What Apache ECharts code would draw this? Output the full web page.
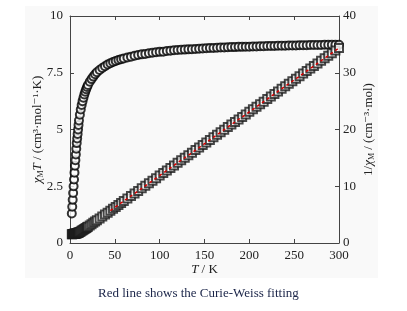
<!DOCTYPE html>
<html lang="en">
<head>
    <meta charset="utf-8">
    <title>chiT</title>
    <script src="https://cdn.jsdelivr.net/npm/echarts@6/dist/echarts.min.js"></script>
    <style>
        html, body { margin:0; padding:0; background:#fff; }
    </style>
</head>
<body>
<div id="chart" style="width:407px; height:311px;"></div>

<script>
    // temperature (K)
    var tempK = [2,2.5,3,3.5,4,4.5,5,5.5,6,6.5,7,7.5,8,8.5,9,9.5,10,
        11,12,13,14,15,16,17,18,19,20,
        22,24,26,28,30,
        33,36,39,42,45,48,51,54,57,60,
        64,68,72,76,80,84,88,92,96,100,
        104,108,112,116,120,124,128,132,136,140,
        144,148,152,156,160,164,168,172,176,180,
        184,188,192,196,200,204,208,212,216,220,
        224,228,232,236,240,244,248,252,256,260,
        264,268,272,276,280,284,288,292,296,300];

    // chi_M T  (left axis, circles)
    var chiT = [1.3,1.6,1.9,2.2,2.5,2.8,3.1,3.4,3.65,3.9,4.15,4.4,4.6,4.8,5.0,5.2,5.4,
        5.65,5.88,6.08,6.25,6.4,6.54,6.66,6.77,6.87,6.96,
        7.1,7.22,7.33,7.43,7.52,
        7.62,7.71,7.79,7.86,7.92,7.97,8.02,8.06,8.1,8.13,
        8.17,8.21,8.25,8.28,8.31,8.33,8.36,8.38,8.40,8.42,
        8.43,8.46,8.47,8.49,8.50,8.51,8.52,8.53,8.54,8.55,
        8.56,8.57,8.58,8.59,8.59,8.60,8.61,8.61,8.62,8.63,
        8.63,8.64,8.64,8.65,8.65,8.66,8.66,8.67,8.67,8.68,
        8.68,8.68,8.69,8.69,8.69,8.70,8.70,8.70,8.71,8.71,
        8.71,8.72,8.72,8.72,8.72,8.73,8.73,8.73,8.73,8.73];

    // 1/chi_M  (right axis, squares)
    var invChi = [1.54,1.56,1.58,1.59,1.60,1.61,1.61,1.62,1.64,1.67,1.69,1.70,1.74,1.77,1.80,1.83,1.85,
        1.95,2.04,2.14,2.24,2.34,2.45,2.55,2.66,2.77,2.87,
        3.10,3.32,3.55,3.77,3.99,
        4.33,4.67,5.01,5.34,5.68,6.02,6.36,6.70,7.04,7.38,
        7.83,8.28,8.73,9.18,9.63,10.08,10.53,10.98,11.43,11.88,
        12.33,12.77,13.22,13.67,14.12,14.57,15.02,15.47,15.92,16.37,
        16.82,17.27,17.72,18.17,18.62,19.07,19.52,19.97,20.42,20.86,
        21.31,21.76,22.21,22.66,23.11,23.56,24.01,24.46,24.91,25.36,
        25.81,26.26,26.71,27.16,27.61,28.06,28.51,28.96,29.40,29.85,
        30.30,30.75,31.20,31.65,32.10,32.55,33.00,33.45,33.90,34.35];

    // Curie-Weiss fit (red line)
    var fitT = [45, 300];
    var fitInv = [5.70, 34.35];

    var xTicks = [0, 300, 50];
    var leftTicks = [0, 10, 2.5];
    var rightTicks = [0, 40, 10];

    var serif = '"Liberation Serif", "DejaVu Serif", serif';
    var axisColor = '#444';

    function zip(a, b) {
        return a.map(function (v, i) { return [v, b[i]]; });
    }

    function axisBase() {
        return {
            axisLine: { show: true, onZero: false, lineStyle: { color: axisColor, width: 1 } },
            axisTick: { show: true, inside: true, length: 4, lineStyle: { color: axisColor } },
            splitLine: { show: false },
            minorTick: { show: false },
            nameMoveOverlap: false
        };
    }

    var chart = echarts.init(document.getElementById('chart'));

    var xBottom = Object.assign(axisBase(), {
        type: 'value', position: 'bottom',
        min: xTicks[0], max: xTicks[1], interval: xTicks[2],
        axisLabel: { margin: 6, fontFamily: serif, fontSize: 13, color: '#222' },
        name: '{i|T} / K',
        nameLocation: 'middle', nameGap: 20,
        nameTextStyle: {
            fontFamily: serif, fontSize: 13, color: '#222',
            rich: { i: { fontFamily: serif, fontSize: 13, fontStyle: 'italic', color: '#222' } }
        }
    });
    var xTop = Object.assign(axisBase(), {
        type: 'value', position: 'top',
        min: xTicks[0], max: xTicks[1], interval: xTicks[2],
        axisLabel: { show: false }
    });

    var yLeft = Object.assign(axisBase(), {
        type: 'value', position: 'left',
        min: leftTicks[0], max: leftTicks[1], interval: leftTicks[2],
        axisLabel: { margin: 7, fontFamily: serif, fontSize: 13, color: '#222' },
        name: '{i|χ}{s|M}{i|T} / (cm³·mol⁻¹·K)',
        nameLocation: 'middle', nameGap: 25, nameRotate: 90,
        nameTextStyle: {
            fontFamily: serif, fontSize: 13, color: '#222',
            rich: {
                i: { fontFamily: serif, fontSize: 13, fontStyle: 'italic', color: '#222' },
                s: { fontFamily: serif, fontSize: 8, color: '#222', verticalAlign: 'bottom', padding: [6, 0, 0, 0] }
            }
        }
    });

    var yRight = Object.assign(axisBase(), {
        type: 'value', position: 'right',
        min: rightTicks[0], max: rightTicks[1], interval: rightTicks[2],
        axisLabel: { margin: 4, fontFamily: serif, fontSize: 13, color: '#222' },
        name: '1/{i|χ}{s|M} / (cm⁻³·mol)',
        nameLocation: 'middle', nameGap: 23, nameRotate: 90,
        nameTextStyle: {
            fontFamily: serif, fontSize: 13, color: '#222',
            rich: {
                i: { fontFamily: serif, fontSize: 13, fontStyle: 'italic', color: '#222' },
                s: { fontFamily: serif, fontSize: 8, color: '#222', verticalAlign: 'bottom', padding: [6, 0, 0, 0] }
            }
        }
    });

    chart.setOption({
        animation: false,
        backgroundColor: '#fff',
        graphic: [
            {
                type: 'rect', z: -10, silent: true,
                shape: { x: 25, y: 6, width: 353, height: 272 },
                style: { fill: '#f9f9f9' }
            },
            {
                type: 'text', left: 98, top: 287,
                style: { text: 'Red line shows the Curie-Weiss fitting', font: '13px ' + serif, fill: '#1a2448' }
            }
        ],
        grid: { left: 70, right: 68, top: 16, bottom: 68 },
        xAxis: [xBottom, xTop],
        yAxis: [yLeft, yRight],
        series: [
            {
                name: 'chiT', type: 'scatter', xAxisIndex: 0, yAxisIndex: 0,
                symbol: 'emptyCircle', symbolSize: 8,
                itemStyle: { color: '#000', borderColor: '#000', borderWidth: 1.3 },
                data: zip(tempK, chiT)
            },
            {
                name: 'invChi', type: 'scatter', xAxisIndex: 0, yAxisIndex: 1,
                symbol: 'emptyRect', symbolSize: 8,
                itemStyle: { color: '#1a1a1a', borderColor: '#1a1a1a', borderWidth: 1.2 },
                data: zip(tempK, invChi)
            },
            {
                name: 'fit', type: 'line', xAxisIndex: 0, yAxisIndex: 1, z: 5,
                showSymbol: false, symbol: 'none',
                lineStyle: { color: '#d40000', width: 1.5, type: [3, 3] },
                data: zip(fitT, fitInv)
            }
        ]
    });
</script>
</body>
</html>
